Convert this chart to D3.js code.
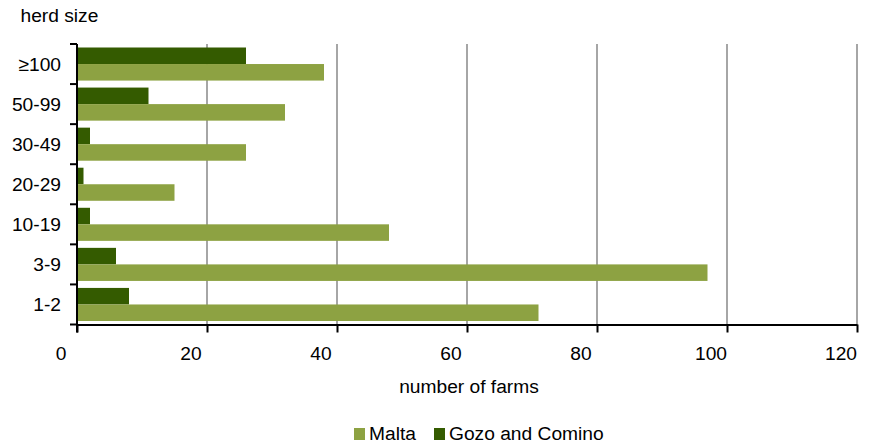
<!DOCTYPE html>
<html>
<head>
<meta charset="utf-8">
<script src="https://cdn.jsdelivr.net/npm/d3@7/dist/d3.min.js"></script>
<style>
  body { margin: 0; background: #fff; }
  svg { display: block; }
  text { font-family: "Liberation Sans", Arial, sans-serif; fill: #000; }
</style>
</head>
<body>
<svg id="chart" width="870" height="446"></svg>
<script>
const categories = ["≥100", "50-99", "30-49", "20-29", "10-19", "3-9", "1-2"];
const seriesNames = ["Gozo and Comino", "Malta"];
const legendOrder = ["Malta", "Gozo and Comino"];
const malta = [38, 32, 26, 15, 48, 97, 71];
const gozo = [26, 11, 2, 1, 2, 6, 8];
const xTicks = [0, 20, 40, 60, 80, 100, 120];
const colors = { "Malta": "#8da242", "Gozo and Comino": "#345b00" };

const rows = categories.map((c, i) => ({ cat: c, "Malta": malta[i], "Gozo and Comino": gozo[i] }));

const svg = d3.select("#chart");
const plotLeft = 77, plotRight = 857, plotTop = 44, plotBottom = 324.5;
const fs = 19.2;

const x = d3.scaleLinear().domain([0, 120]).range([plotLeft, plotRight]);
const y = d3.scaleBand().domain(categories).range([plotTop, plotBottom]).padding(0);
const sub = d3.scaleBand().domain(seriesNames).range([3.5, y.bandwidth() - 3.5]).padding(0);

// gridlines
svg.append("g").selectAll("line").data(xTicks.filter(d => d > 0)).join("line")
  .attr("x1", d => x(d)).attr("x2", d => x(d))
  .attr("y1", plotTop).attr("y2", plotBottom)
  .attr("stroke", "#a6a6a6").attr("stroke-width", 2);

// bars
const g = svg.append("g");
rows.forEach(r => {
  seriesNames.forEach(s => {
    g.append("rect")
      .attr("x", x(0))
      .attr("y", y(r.cat) + sub(s))
      .attr("width", x(r[s]) - x(0))
      .attr("height", sub.bandwidth())
      .attr("fill", colors[s]);
  });
});

// x axis
const xAxis = svg.append("g").attr("transform", `translate(0,${plotBottom})`)
  .call(d3.axisBottom(x).tickValues(xTicks).tickSize(8).tickSizeOuter(0).tickPadding(14));
xAxis.select(".domain").attr("stroke", "#000").attr("stroke-width", 2);
xAxis.selectAll(".tick line").attr("stroke", "#000").attr("stroke-width", 2);
xAxis.selectAll(".tick text").attr("font-size", fs).attr("dx", -16.5)
  .style("font-family", '"Liberation Sans", Arial, sans-serif').attr("fill", "#000");

// y axis
const yAxisG = svg.append("g");
yAxisG.append("line").attr("x1", x(0)).attr("x2", x(0)).attr("y1", plotTop).attr("y2", plotBottom + 8)
  .attr("stroke", "#000").attr("stroke-width", 2);
const bounds = categories.map(c => y(c)).concat([y(categories[categories.length - 1]) + y.step()]);
yAxisG.selectAll("line.tk").data(bounds).join("line").attr("class", "tk")
  .attr("x1", x(0) - 7).attr("x2", x(0)).attr("y1", d => d).attr("y2", d => d)
  .attr("stroke", "#000").attr("stroke-width", 2);
yAxisG.selectAll("text").data(categories).join("text")
  .attr("x", x(0) - 16).attr("y", d => y(d) + y.bandwidth() / 2)
  .attr("dy", "0.35em").attr("text-anchor", "end").attr("font-size", fs)
  .text(d => d);

// axis titles
svg.append("text").attr("x", 20.5).attr("y", 22).attr("font-size", fs).text("herd size");
svg.append("text").attr("x", 469).attr("y", 393).attr("text-anchor", "middle").attr("font-size", fs).text("number of farms");

// legend
const legendPos = { "Malta": 354, "Gozo and Comino": 434 };
legendOrder.forEach(s => {
  svg.append("rect").attr("x", legendPos[s]).attr("y", 428).attr("width", 11).attr("height", 12).attr("fill", colors[s]);
  svg.append("text").attr("x", legendPos[s] + 15).attr("y", 440).attr("font-size", fs).text(s);
});
</script>
</body>
</html>
